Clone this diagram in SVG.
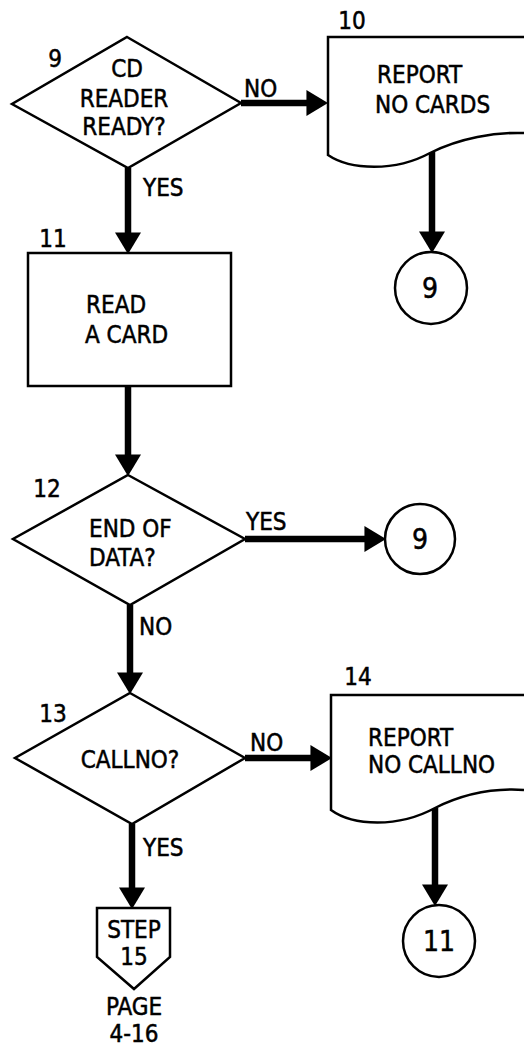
<svg xmlns="http://www.w3.org/2000/svg" width="524" height="1048" viewBox="0 0 524 1048">
<style>
.s{fill:#fff;stroke:#000;stroke-width:2.5;stroke-linejoin:miter}
.c{fill:none;stroke:#000;stroke-width:6.5}
text{font-family:"Liberation Sans Narrow","DejaVu Sans Condensed","Liberation Sans",sans-serif;font-stretch:condensed;font-size:24px;fill:#000;stroke:#000;stroke-width:0.5}
.m{text-anchor:middle}
.k{font-size:28px}
</style>
<defs>
<marker id="ah" markerUnits="userSpaceOnUse" markerWidth="22" markerHeight="26" viewBox="0 0 20 24" refX="7" refY="12" orient="auto">
<path d="M0,0 L20,12 L0,24 z" fill="#000"/>
</marker>
</defs>
<rect width="524" height="1048" fill="#fff"/>
<g id="connectors">
<line class="c" x1="241" y1="103" x2="314" y2="103" marker-end="url(#ah)"/>
<line class="c" x1="128" y1="168" x2="128" y2="240" marker-end="url(#ah)"/>
<line class="c" x1="432" y1="152" x2="432" y2="239" marker-end="url(#ah)"/>
<line class="c" x1="128" y1="386" x2="128" y2="462" marker-end="url(#ah)"/>
<line class="c" x1="245" y1="539" x2="372" y2="539" marker-end="url(#ah)"/>
<line class="c" x1="130" y1="605" x2="130" y2="680" marker-end="url(#ah)"/>
<line class="c" x1="245" y1="758" x2="318" y2="758" marker-end="url(#ah)"/>
<line class="c" x1="435" y1="808" x2="435" y2="892" marker-end="url(#ah)"/>
<line class="c" x1="132" y1="824" x2="132" y2="895" marker-end="url(#ah)"/>
<text x="244" y="97">NO</text>
<text x="143" y="196">YES</text>
<text x="246" y="530">YES</text>
<text x="139" y="635">NO</text>
<text x="250" y="751">NO</text>
<text x="143" y="856">YES</text>
</g>
<g id="n9">
<path class="s" d="M127,37 L241,103 L128,168 L12,104 Z"/>
<text x="55" y="67" class="m">9</text>
<text x="127" y="77" class="m">CD</text>
<text x="124" y="107" class="m">READER</text>
<text x="124" y="135" class="m">READY?</text>
</g>
<g id="n10">
<path class="s" d="M524,37 H328 V155 C350,170 395,172 430,153 C460,138 495,132 524,133"/>
<text x="352" y="29" class="m">10</text>
<text x="377" y="83">REPORT</text>
<text x="375" y="113">NO CARDS</text>
</g>
<g id="c9a">
<circle class="s" cx="431" cy="288" r="36"/>
<text x="430" y="298" class="m k">9</text>
</g>
<g id="n11">
<rect class="s" x="28" y="253" width="203" height="133"/>
<text x="53" y="247" class="m">11</text>
<text x="86" y="313">READ</text>
<text x="85" y="343">A CARD</text>
</g>
<g id="n12">
<path class="s" d="M128,475 L245,539 L130,605 L13,539 Z"/>
<text x="47" y="497" class="m">12</text>
<text x="89" y="537">END OF</text>
<text x="89" y="566">DATA?</text>
</g>
<g id="c9b">
<circle class="s" cx="420" cy="539" r="35"/>
<text x="420" y="549" class="m k">9</text>
</g>
<g id="n13">
<path class="s" d="M130,693 L245,758 L132,824 L15,758 Z"/>
<text x="53" y="722" class="m">13</text>
<text x="130" y="768" class="m">CALLNO?</text>
</g>
<g id="n14">
<path class="s" d="M524,695 H331 V810 C353,826 398,828 435,808 C465,793 495,788 524,790"/>
<text x="358" y="685" class="m">14</text>
<text x="368" y="746">REPORT</text>
<text x="368" y="773">NO CALLNO</text>
</g>
<g id="c11">
<circle class="s" cx="439" cy="941" r="36"/>
<text x="439" y="951" class="m k">11</text>
</g>
<g id="n15">
<path class="s" d="M97,908 H170 V957 L134,989 L97,957 Z"/>
<text x="134" y="938" class="m">STEP</text>
<text x="134" y="965" class="m">15</text>
<text x="134" y="1015" class="m">PAGE</text>
<text x="134" y="1042" class="m">4-16</text>
</g>
</svg>
